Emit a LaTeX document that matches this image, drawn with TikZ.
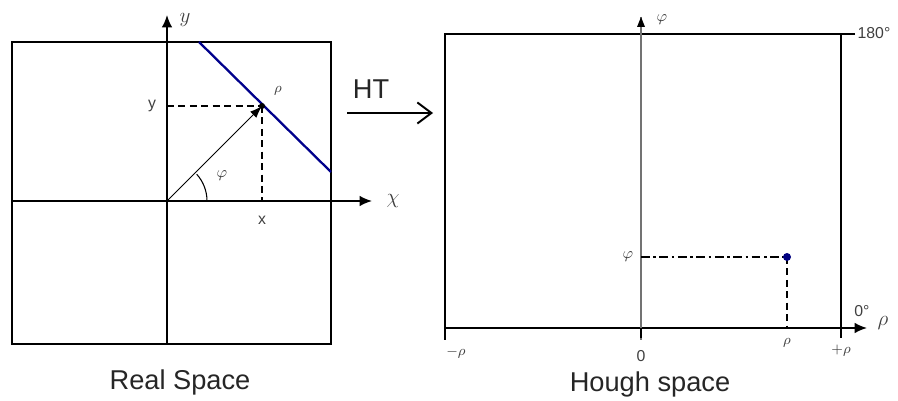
\documentclass[tikz,border=0pt]{standalone}
\usepackage{fontspec}
\setmainfont{Liberation Sans}
\usepackage{tikz}
\usetikzlibrary{arrows.meta,positioning,calc}

\tikzset{
  frame/.style={black, line width=1pt},
  axis/.style={black, line width=1pt, -{Latex[length=7pt,width=6pt]}},
  guide/.style={black, line width=0.9pt, dash pattern=on 4pt off 2.5pt},
  lbl/.style={font=\footnotesize, text=black!75, inner sep=1pt},
  title/.style={font=\fontsize{15.5}{18}\selectfont, text=black!85}
}

\begin{document}
\begin{tikzpicture}[x=0.02cm, y=-0.02cm]
  \useasboundingbox (0,0) rectangle (898,401);

  % --- Real space ---
  \draw[frame] (12,42) rectangle (331,344);
  \coordinate (O) at (167,201);
  \coordinate (P) at (262,106);
  \coordinate (yb) at (167,344);
  \coordinate (yt) at (167,15);
  \coordinate (xl) at (12,201);
  \coordinate (xr) at (372,201);
  \coordinate (xf) at (262,201);
  \draw[axis] (yb) -- (yt);
  \draw[axis] (xl) -- (xr);
  \node[lbl, font=\large] (ylab) at (185,20) {$y$};
  \node[lbl, font=\large] (xlab) at (393,201) {$\chi$};

  % line in the image
  \coordinate (la) at (199,42);
  \coordinate (lb) at (331,172);
  \draw[blue!55!black, line width=1.3pt] (la) -- (lb);

  % normal vector and projections
  \draw[guide] (O |- P) -- (P);
  \draw[guide] (P) -- (xf);
  \draw[black, line width=0.6pt, -{Latex[length=7pt,width=5pt]}] (O) -- (P);
  \fill[black] (P) circle (3);
  \draw[black, line width=0.6pt] ($(O)+(40,0)$) arc[start angle=0, end angle=-42, radius=40];
  \node[lbl, font=\small] (phiA) at (222,176) {$\varphi$};
  \node[lbl] (rhoA) at (278,91) {$\rho$};
  \node[lbl, font=\small] (ypt) at (152,106) {y};
  \node[lbl, font=\small] (xpt) at (262,220) {x};
  \node[title] (real) at (180,382) {Real Space};

  % --- Transform arrow ---
  \coordinate (ha) at (347,113);
  \coordinate (hb) at (433,113);
  \draw[black, line width=1.1pt, -{Straight Barb[length=8pt,width=12pt]}] (ha) -- (hb);
  \node[title] (ht) at (371,89) {HT};

  % --- Hough space ---
  \draw[frame] (855,34) -- (445,34) -- (445,340);
  \draw[frame] (841,34) -- (841,338);
  \coordinate (Hl) at (445,328);
  \coordinate (Hr) at (867,328);
  \coordinate (Zb) at (641,340);
  \coordinate (Zt) at (641,17);
  \draw[axis] (Hl) -- (Hr);
  \draw[black!55, line width=0.6pt] (Zb) -- (Zt);
  \fill[black] (Zt) -- ++(-4,10) -- ++(8,0) -- cycle;
  \draw[frame] (641,328) -- (641,338);
  \node[lbl, font=\small] (phiH) at (662,20) {$\varphi$};
  \node[lbl, font=\small] (deg180) at (874,33) {180°};
  \node[lbl, font=\small] (deg0) at (862,311) {0°};
  \node[lbl, font=\large] (rhoH) at (883,323) {$\rho$};

  % point in Hough space
  \coordinate (Q) at (787,257);
  \coordinate (Qb) at (787,328);
  \draw[black, line width=0.9pt, dash pattern=on 5pt off 2pt on 1.5pt off 2pt] (641,257) -- (Q);
  \draw[guide] (Q) -- (Qb);
  \fill[blue!50!black] (Q) circle (4);
  \node[lbl, font=\small] (phiQ) at (628,257) {$\varphi$};

  % tick labels
  \node[lbl] (mrho) at (456,353) {$-\rho$};
  \node[lbl, font=\small] (zero) at (641,356) {0};
  \node[lbl] (rhoQ) at (787,343) {$\rho$};
  \node[lbl] (prho) at (841,351) {$+\rho$};
  \node[title] (hough) at (650,384) {Hough space};
\end{tikzpicture}
\end{document}
